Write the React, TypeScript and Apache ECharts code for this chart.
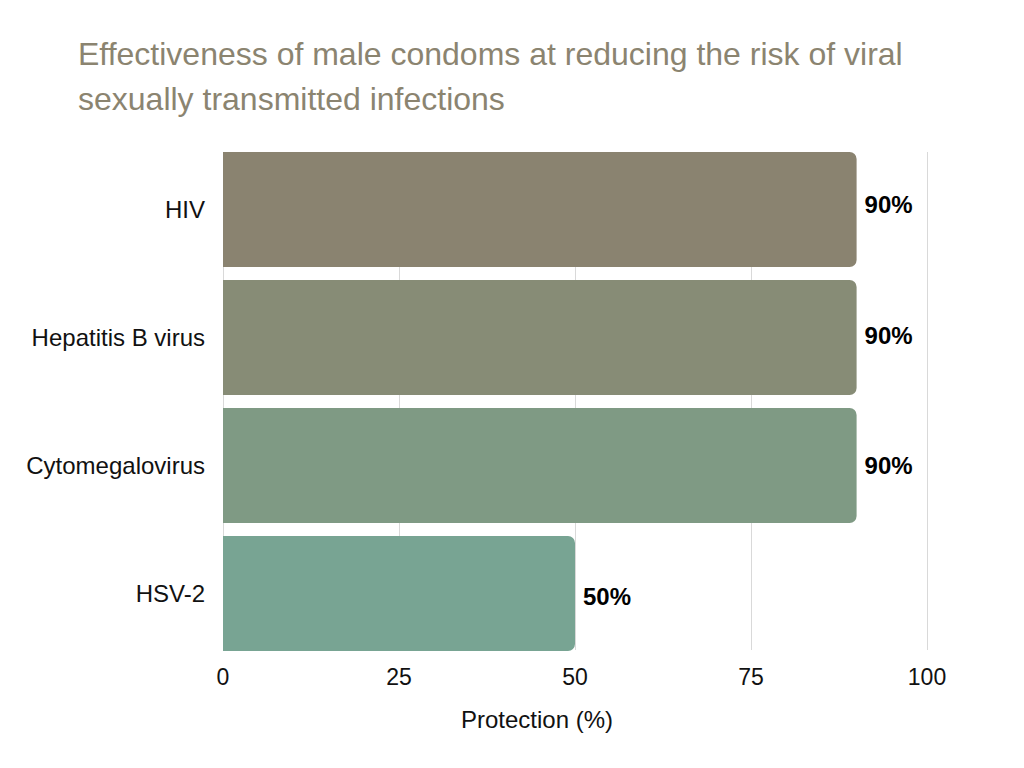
import React, { useEffect, useRef } from "react";
import * as echarts from "echarts";

const categories = ["HIV", "Hepatitis B virus", "Cytomegalovirus", "HSV-2"];
const values = [90, 90, 90, 50];
const barColors = ["#8a8370", "#878c76", "#7f9a84", "#78a493"];
const labelShiftY = [-5, -2, 0, 3];
const xTicks = [0, 25, 50, 75, 100];

export default function App() {
  const ref = useRef<HTMLDivElement>(null);
  useEffect(() => {
    if (!ref.current) return;
    const chart = echarts.init(ref.current, null, { renderer: "svg" });
    const font = "'Liberation Sans', Arial, sans-serif";
    chart.setOption({
      animation: false,
      backgroundColor: "#ffffff",
      title: {
        text: "Effectiveness of male condoms at reducing the risk of viral\nsexually transmitted infections",
        left: 73,
        top: 26,
        textStyle: {
          fontFamily: font,
          fontSize: 32,
          fontWeight: "normal",
          color: "#8b8470",
          lineHeight: 45,
        },
      },
      grid: [
        { left: 223, width: 704, top: 145.5, height: 512 },
        { left: 223, width: 704, top: 152, height: 498 },
      ],
      xAxis: [
        {
          gridIndex: 0,
          type: "value",
          min: 0,
          max: 100,
          interval: 25,
          show: false,
        },
        {
          gridIndex: 1,
          type: "value",
          min: xTicks[0],
          max: xTicks[xTicks.length - 1],
          interval: 25,
          axisLine: { show: false },
          axisTick: { show: false },
          splitLine: { show: true, lineStyle: { color: "#d9d9d9", width: 1 } },
          axisLabel: {
            margin: 15,
            fontFamily: font,
            fontSize: 23,
            color: "#111111",
          },
        },
      ],
      yAxis: [
        {
          gridIndex: 0,
          type: "category",
          data: categories,
          inverse: true,
          axisLine: { show: false },
          axisTick: { show: false },
          splitLine: { show: false },
          axisLabel: {
            margin: 18,
            fontFamily: font,
            fontSize: 24,
            color: "#111111",
          },
        },
        {
          gridIndex: 1,
          type: "category",
          data: categories,
          show: false,
        },
      ],
      graphic: [
        {
          type: "text",
          left: 461,
          top: 707,
          style: {
            text: "Protection (%)",
            fontFamily: font,
            fontSize: 24,
            fill: "#111111",
          },
        },
      ],
      series: [
        {
          type: "bar",
          xAxisIndex: 0,
          yAxisIndex: 0,
          barCategoryGap: "10%",
          data: values.map((v, i) => ({
            value: v,
            itemStyle: { color: barColors[i], borderRadius: [0, 7, 7, 0] },
            label: { offset: [0, labelShiftY[i]] },
          })),
          label: {
            show: true,
            position: "right",
            distance: 8,
            formatter: "{c}%",
            fontFamily: font,
            fontSize: 24,
            fontWeight: "bold",
            color: "#000000",
          },
          z: 3,
        },
      ],
    });
    return () => chart.dispose();
  }, []);
  return (
    <div
      ref={ref}
      style={{ position: "fixed", left: 0, top: 0, width: 1024, height: 768 }}
    />
  );
}
